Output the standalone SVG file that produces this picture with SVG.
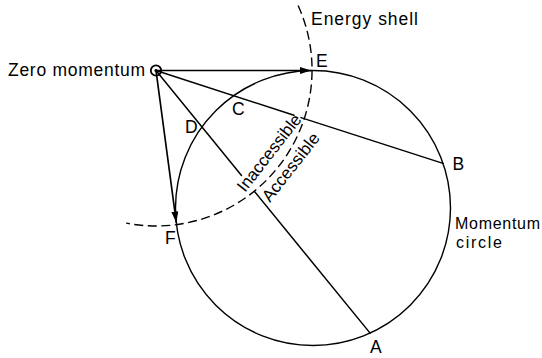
<svg xmlns="http://www.w3.org/2000/svg" width="542" height="358" viewBox="0 0 542 358">
<style>
  .ln { stroke: #000; stroke-width: 1.5; fill: none; stroke-linecap: round; }
  .circ { stroke: #000; stroke-width: 1.4; fill: none; }
  .dash { stroke: #000; stroke-width: 1.4; fill: none; stroke-dasharray: 9 4.5; }
  text { font-family: "Liberation Sans", Arial, sans-serif; font-size: 17.5px; fill: #000; }
  .rot { font-size: 17px; }
  .mc { font-size: 16px; }
</style>
<defs>
  <marker id="arr" markerUnits="userSpaceOnUse" markerWidth="12" markerHeight="8" refX="11" refY="3.5" orient="auto">
    <path d="M0,0 L11,3.5 L0,7 z" fill="#000"/>
  </marker>
</defs>
<rect width="542" height="358" fill="#fff"/>

<g id="momentum-circle">
  <circle class="circ" cx="313" cy="208" r="137.5"/>
  <text class="mc" x="455" y="229" textLength="85">Momentum</text>
  <text class="mc" x="456" y="247.5" textLength="46">circle</text>
</g>

<g id="energy-shell">
  <path class="dash" d="M298.1,5.5 A156,156 0 0 1 126.2,223.1"/>
  <text x="311" y="25" textLength="107">Energy shell</text>
  <text class="rot" x="245" y="193" transform="rotate(-52 245 193)" textLength="93">Inaccessible</text>
  <text class="rot" x="270" y="203" transform="rotate(-52 270 203)" textLength="82">Accessible</text>
</g>

<g id="zero-momentum">
  <circle cx="156" cy="70.5" r="5.2" fill="none" stroke="#000" stroke-width="1.8"/>
  <circle cx="156" cy="70.5" r="1.6" fill="#000"/>
  <text x="8" y="76" textLength="137">Zero momentum</text>
</g>

<g id="connectors">
  <line class="ln" x1="156" y1="70.5" x2="311" y2="70.5" marker-end="url(#arr)" style="stroke-width:1.7"/>
  <line class="ln" x1="156" y1="70.5" x2="176.3" y2="222.5" marker-end="url(#arr)" style="stroke-width:1.7"/>
  <line class="ln" x1="156" y1="70.5" x2="294" y2="115.3"/>
  <line class="ln" x1="301" y1="117.6" x2="443" y2="163.4"/>
  <line class="ln" x1="156" y1="70.5" x2="241.5" y2="175.5"/>
  <line class="ln" x1="254.5" y1="191.5" x2="370.1" y2="333.1"/>
</g>

<g id="labels">
  <text x="316" y="66.7">E</text>
  <text x="452.5" y="170">B</text>
  <text x="370" y="353">A</text>
  <text x="165" y="243.7">F</text>
  <text x="232" y="115">C</text>
  <text x="185" y="133.3">D</text>
</g>
</svg>
